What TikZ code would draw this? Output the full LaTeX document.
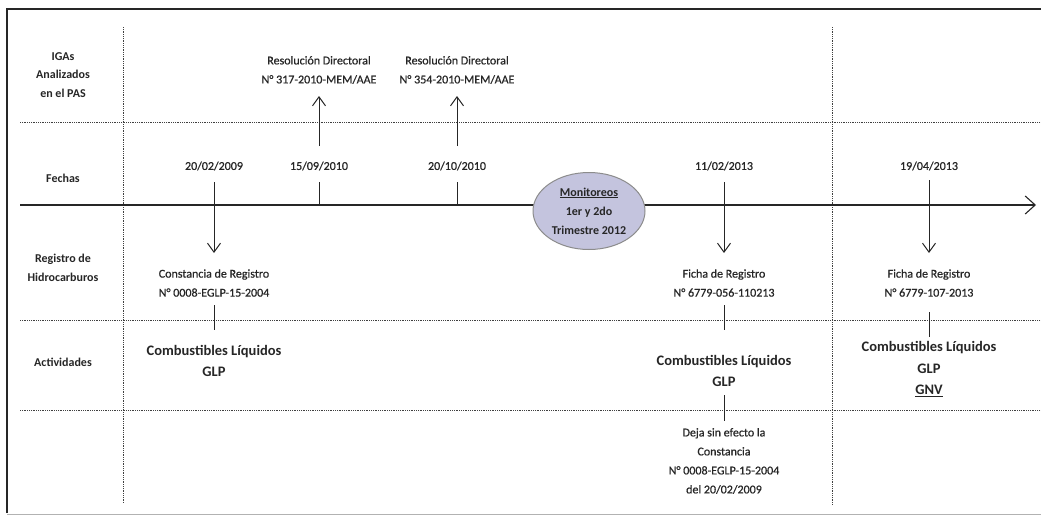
\documentclass[tikz,border=0pt]{standalone}
\usepackage{fontspec}
\setmainfont{Carlito}
\newfontfamily\scanfont[FakeBold=0.7]{Carlito}
\usetikzlibrary{arrows.meta,shapes.geometric}
\begin{document}
\begin{tikzpicture}[x=1pt,y=-1pt,
  grid/.style={draw=black!75,line width=0.9pt,dash pattern=on 1pt off 0.8pt},
  frame/.style={draw=black!85,line width=1.6pt},
  axis/.style={draw=black!85,line width=1.1pt},
  conn/.style={draw=black!85,line width=1pt},
  arr/.style={conn,-{Straight Barb[length=9pt,width=13pt,line width=1pt]}},
  lbl/.style={font=\bfseries\fontsize{12}{18.5}\selectfont,align=center,inner sep=0pt,text=black!85},
  big/.style={font=\bfseries\fontsize{14.5}{21.5}\selectfont,align=center,inner sep=0pt,text=black!85},
  txt/.style={font=\scanfont\fontsize{12}{19}\selectfont,align=center,inner sep=0pt,text=black!85},
  bubble/.style={ellipse,draw=black!45,line width=1pt,fill={rgb,255:red,196;green,196;blue,222},minimum width=112pt,minimum height=77pt,inner sep=0pt,align=center,font=\bfseries\fontsize{12}{19}\selectfont,text=black!85}
]
\useasboundingbox (0,0) rectangle (1041,515);
% frame
\draw[frame] (1041,9) -- (7,9) -- (7,513);
\draw[black!30,line width=0.8pt] (7,514) -- (1041,514);
% grid
\draw[grid] (123,27) -- (123,503);
\draw[grid] (832,27) -- (832,505);
\draw[grid] (20,122) -- (1041,122);
\draw[grid] (20,320) -- (1041,320);
\draw[grid] (20,410) -- (1041,410);
% row labels
\node[lbl] (r1) at (63,75) {IGAs\\Analizados\\en el PAS};
\node[lbl] (r2) at (63,178) {Fechas};
\node[lbl] (r3) at (63,268) {Registro de\\Hidrocarburos};
\node[lbl] (r4) at (63,362) {Actividades};
% timeline
\coordinate (t0) at (20,205);
\coordinate (t1) at (1036,205);
\draw[axis,-{Straight Barb[length=10pt,width=18pt,line width=1.1pt]}] (t0) -- (t1);
% event 1
\node[txt] (d1) at (214,166) {20/02/2009};
\coordinate (a1s) at (214,182);
\coordinate (a1e) at (214,253);
\draw[arr] (a1s) -- (a1e);
\node[txt] (reg1) at (214,283) {Constancia de Registro\\N° 0008-EGLP-15-2004};
\coordinate (k1s) at (214,305);
\coordinate (k1e) at (214,330);
\draw[conn] (k1s) -- (k1e);
\node[big] (act1) at (214,361) {Combustibles Líquidos\\GLP};
% event 2
\node[txt] (d2) at (319,166) {15/09/2010};
\coordinate (m2s) at (319,182);
\coordinate (m2e) at (319,205);
\draw[conn] (m2s) -- (m2e);
\coordinate (u2s) at (319,146);
\coordinate (u2e) at (319,96);
\draw[arr] (u2s) -- (u2e);
\node[txt] (iga2) at (319,70) {Resolución Directoral\\N° 317-2010-MEM/AAE};
% event 3
\node[txt] (d3) at (457,166) {20/10/2010};
\coordinate (m3s) at (457,182);
\coordinate (m3e) at (457,205);
\draw[conn] (m3s) -- (m3e);
\coordinate (u3s) at (457,146);
\coordinate (u3e) at (457,96);
\draw[arr] (u3s) -- (u3e);
\node[txt] (iga3) at (457,70) {Resolución Directoral\\N° 354-2010-MEM/AAE};
% monitoring
\node[bubble] (mon) at (589,211) {\underline{Monitoreos}\\1er y 2do\\Trimestre 2012};
% event 4
\node[txt] (d4) at (724,166) {11/02/2013};
\coordinate (a4s) at (724,182);
\coordinate (a4e) at (724,253);
\draw[arr] (a4s) -- (a4e);
\node[txt] (reg4) at (724,283) {Ficha de Registro\\N° 6779-056-110213};
\coordinate (k4s) at (724,305);
\coordinate (k4e) at (724,330);
\draw[conn] (k4s) -- (k4e);
\node[big] (act4) at (724,371) {Combustibles Líquidos\\GLP};
\coordinate (k5s) at (724,395);
\coordinate (k5e) at (724,421);
\draw[conn] (k5s) -- (k5e);
\node[txt] (note4) at (724,461) {Deja sin efecto la\\Constancia\\N° 0008-EGLP-15-2004\\del 20/02/2009};
% event 5
\node[txt] (d5) at (929,166) {19/04/2013};
\coordinate (a5s) at (929,180);
\coordinate (a5e) at (929,253);
\draw[arr] (a5s) -- (a5e);
\node[txt] (reg5) at (929,283) {Ficha de Registro\\N° 6779-107-2013};
\coordinate (k6s) at (929,312);
\coordinate (k6e) at (929,337);
\draw[conn] (k6s) -- (k6e);
\node[big] (act5) at (929,369) {Combustibles Líquidos\\GLP\\\underline{GNV}};
\end{tikzpicture}
\end{document}
